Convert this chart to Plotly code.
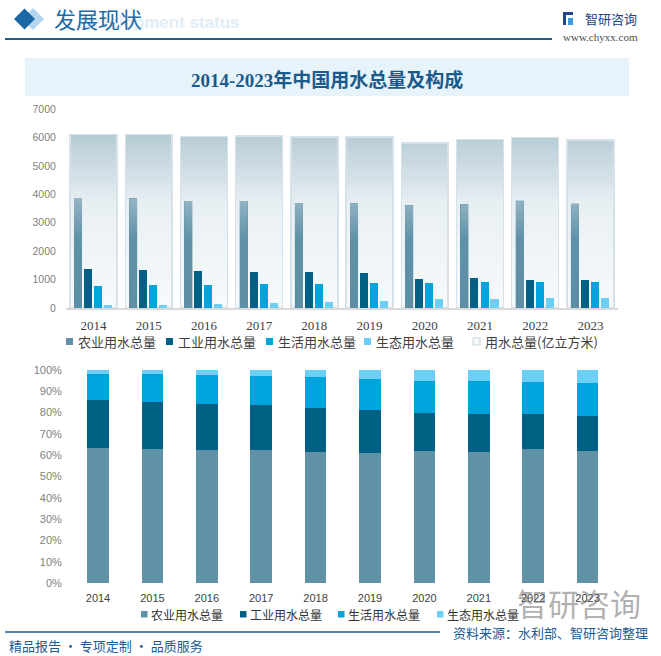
import plotly.graph_objects as go

W, H = 661, 656


def px(x):
    return x / W


def py(y):
    return 1 - y / H


# ---------------- data ----------------
years = ['2014', '2015', '2016', '2017', '2018', '2019', '2020', '2021', '2022', '2023']
agri = [3869.0, 3852.2, 3768.0, 3766.4, 3693.1, 3682.3, 3612.4, 3644.3, 3781.3, 3672.4]
industry = [1356.1, 1334.8, 1308.0, 1277.0, 1261.6, 1217.6, 1030.4, 1049.6, 968.4, 970.2]
domestic = [766.6, 793.5, 821.6, 838.1, 859.9, 871.7, 863.1, 909.4, 905.7, 909.8]
eco = [103.2, 122.7, 142.6, 161.9, 200.9, 249.6, 307.0, 316.9, 342.8, 354.0]
total = [6094.9, 6103.2, 6040.2, 6043.4, 6015.5, 6021.2, 5812.9, 5920.2, 5998.2, 5906.5]

names = ['农业用水总量', '工业用水总量', '生活用水总量', '生态用水总量']
total_name = '用水总量(亿立方米)'
colors = ['#5f91a7', '#006184', '#00a4dc', '#6ccff5']

idx = list(range(len(years)))
series = [agri, industry, domestic, eco]

fig = go.Figure()


def rect_outline(values, left, right):
    xs, ys = [], []
    for i, v in zip(idx, values):
        xs += [i + left, i + right, i + right, i + left, i + left, None]
        ys += [0, 0, v, v, 0, None]
    return xs, ys


# gradient background of total bars (base subplot, below the bars)
tx, ty = rect_outline(total, -0.425, 0.425)
fig.add_trace(go.Scatter(
    x=tx, y=ty, mode='lines', fill='toself', line=dict(width=0, color='#dbe6ec'),
    fillgradient=dict(type='vertical',
                      colorscale=[[0, '#f7fafc'], [0.6, '#e8eff3'], [1, '#b6cbd5']],
                      start=0, stop=6100),
    showlegend=False, hoverinfo='skip', xaxis='x', yaxis='y'))

# total bar (outline)
fig.add_trace(go.Bar(
    name=total_name, x=idx, y=total, width=0.85,
    marker=dict(color='rgba(255,255,255,0)', line=dict(color='#d6e2e9', width=1.5)),
    xaxis='x3', yaxis='y3', showlegend=False, hoverinfo='skip'))

offsets = [-0.281, -0.100, 0.082, 0.263]
bw = 0.145
for k, (nm, vals, col, off) in enumerate(zip(names, series, colors, offsets)):
    fig.add_trace(go.Bar(
        name=nm, x=[i + off for i in idx], y=vals, width=bw,
        marker=dict(color=col, line=dict(width=0)),
        xaxis='x3', yaxis='y3', showlegend=False))

# agricultural bar gradient highlight
axs, ays = rect_outline(agri, offsets[0] - bw / 2, offsets[0] + bw / 2)
fig.add_trace(go.Scatter(
    x=axs, y=ays, mode='lines', fill='toself', line=dict(width=0, color='#5f91a7'),
    fillgradient=dict(type='vertical',
                      colorscale=[[0, '#5c8ea5'], [0.62, '#5f91a7'], [1, '#96b6c5']],
                      start=0, stop=3880),
    showlegend=False, hoverinfo='skip', xaxis='x3', yaxis='y3'))

# ---------------- bottom: share chart ----------------
shares = []
for vals in series:
    shares.append([v / (a + b + c + d) * 100 for v, a, b, c, d in zip(vals, agri, industry, domestic, eco)])

for k, (nm, sh, col) in enumerate(zip(names, shares, colors)):
    fig.add_trace(go.Bar(
        name=nm, x=years, y=sh, width=0.4,
        marker=dict(color=col, line=dict(width=0)),
        xaxis='x2', yaxis='y2', showlegend=False,
        hovertemplate='%{x}: %{y:.1f}%<extra>' + nm + '</extra>'))

cjk = 'Noto Sans CJK SC'

fig.update_layout(
    width=W, height=H, autosize=False,
    margin=dict(l=0, r=0, t=0, b=0, pad=0),
    paper_bgcolor='white', plot_bgcolor='rgba(0,0,0,0)',
    barmode='stack', showlegend=False,
    font=dict(family=cjk, color='#404040'),
    xaxis=dict(domain=[px(65.9), px(618)], range=[-0.5, 9.5], tickmode='array',
               tickvals=idx, ticktext=years, showgrid=False, zeroline=False,
               showline=True, linecolor='#d9d9d9', linewidth=1.5, ticks='',
               tickfont=dict(family='Liberation Serif', size=13, color='#404040'),
               ticklabelstandoff=5, anchor='y', fixedrange=True, automargin=False),
    yaxis=dict(domain=[py(308), py(109)], range=[0, 7000], dtick=1000, tick0=0,
               showgrid=False, zeroline=False, showline=False, ticks='',
               tickfont=dict(family='Liberation Sans', size=10.5, color='#7f7f7f'),
               ticklabelstandoff=9, anchor='x', fixedrange=True, automargin=False),
    xaxis3=dict(overlaying='x', range=[-0.5, 9.5], visible=False, anchor='y3', automargin=False),
    yaxis3=dict(overlaying='y', range=[0, 7000], visible=False, anchor='x3', automargin=False),
    xaxis2=dict(domain=[px(70.8), px(614.8)], type='category', anchor='y2',
                showgrid=False, zeroline=False, showline=False, ticks='',
                tickfont=dict(family='Liberation Sans', size=11, color='#404040'),
                ticklabelstandoff=7, automargin=False),
    yaxis2=dict(domain=[py(583), py(370)], range=[0, 100], dtick=10, tick0=0,
                ticksuffix='%', showgrid=False, zeroline=False, showline=False, ticks='',
                tickfont=dict(family='Liberation Sans', size=11, color='#7f7f7f'),
                anchor='x2', ticklabelstandoff=8, automargin=False),
)

shapes = []


def rect(x0, y0, x1, y1, fill, line_color=None, lw=0, layer='above'):
    return dict(type='rect', xref='paper', yref='paper', x0=px(x0), x1=px(x1), y0=py(y1), y1=py(y0),
                fillcolor=fill, line=dict(width=lw, color=line_color or fill), layer=layer)


# header diamonds
shapes.append(dict(type='path', xref='paper', yref='paper',
                   path=f'M {px(22)} {py(19)} L {px(33)} {py(8)} L {px(44)} {py(19)} L {px(33)} {py(30)} Z',
                   fillcolor='#b5d5ee', line=dict(width=0)))
shapes.append(dict(type='path', xref='paper', yref='paper',
                   path=f'M {px(14)} {py(19)} L {px(24.5)} {py(8.5)} L {px(35)} {py(19)} L {px(24.5)} {py(29.5)} Z',
                   fillcolor='#1a68a6', line=dict(width=0)))
# header line
shapes.append(dict(type='line', xref='paper', yref='paper', x0=px(5), x1=px(552), y0=py(39), y1=py(39),
                   line=dict(color='#1f5c88', width=2)))
# logo icon
shapes.append(rect(563, 12, 573, 15, '#23458a'))
shapes.append(rect(563, 12, 566, 25, '#23458a'))
shapes.append(rect(568, 18, 573, 25, '#3a9be0'))
# title band
shapes.append(rect(25, 58, 629, 96, '#e6f3fb', layer='below'))
# footer line
shapes.append(dict(type='line', xref='paper', yref='paper', x0=px(5), x1=px(440), y0=py(632), y1=py(632),
                   line=dict(color='#1f5c88', width=1.5)))


def ann(text, x, y, size, color, family=cjk, xanchor='left', bold=False):
    t = f'<b>{text}</b>' if bold else text
    return dict(text=t, x=px(x), y=py(y), xref='paper', yref='paper', showarrow=False,
                xanchor=xanchor, yanchor='middle',
                font=dict(family=family, size=size, color=color))


annotations = [
    ann('Development status', 76, 22, 17, '#e1edf7', family='Liberation Sans', bold=True),
    ann('发展现状', 52, 18, 22, '#1c6aa8'),
    ann('智研咨询', 611, 18, 13, '#22427f', xanchor='center'),
    ann('www.chyxx.com', 600, 37, 11, '#4d4d4d', family='Liberation Serif', xanchor='center'),
    ann('2014-2023年中国用水总量及构成', 327, 80, 19, '#1a5b8b',
        family='Liberation Serif, Noto Sans CJK SC', xanchor='center', bold=True),
    ann('智研咨询', 515, 602, 31, 'rgba(110,110,110,0.55)'),
    ann('精品报告 · 专项定制 · 品质服务', 7, 645, 13, '#1b5b92'),
    ann('资料来源：水利部、智研咨询整理', 650, 632, 13, '#1b5b92', xanchor='right'),
]

# legends (top chart)
top_leg_x = [66, 166, 266, 364, 473]
top_leg_names = names + [total_name]
top_leg_cols = colors + ['#ffffff']
for lx, nm, col in zip(top_leg_x, top_leg_names, top_leg_cols):
    if col == '#ffffff':
        shapes.append(rect(lx, 338, lx + 7, 345, '#f4f8fa', line_color='#c9d7df', lw=1))
    else:
        shapes.append(rect(lx, 338, lx + 7, 345, col))
    annotations.append(ann(nm, lx + 10, 341, 13, '#404040'))

# legends (bottom chart)
bot_leg_x = [141, 240, 338, 437]
for lx, nm, col in zip(bot_leg_x, names, colors):
    shapes.append(rect(lx, 611, lx + 6.5, 617.5, col))
    annotations.append(ann(nm, lx + 8, 614, 12, '#333333'))

fig.update_layout(shapes=shapes, annotations=annotations)

fig.write_html('out.html', config={'displayModeBar': False},
               post_script="document.body.style.margin='0';")
